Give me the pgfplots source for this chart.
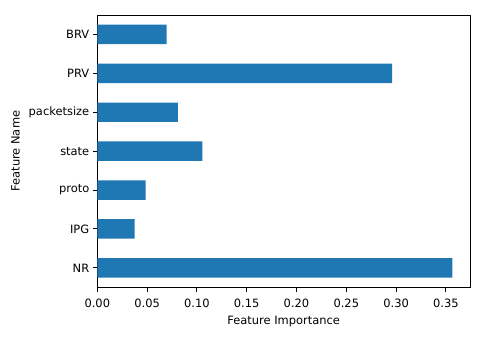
\documentclass[border=0pt]{standalone}
\usepackage{pgfplots}
\pgfplotsset{compat=1.18}
\usepackage{fontspec}
\setmainfont{DejaVu Sans}
\definecolor{mplblue}{RGB}{31,119,180}

\begin{document}
\begin{tikzpicture}
  \begin{axis}[
    scale only axis,
    width=372.7bp, height=272.3bp,
    xbar, bar width=0.5,
    xmin=0, xmax=0.3742,
    ymin=-0.5, ymax=6.5,
    ytick={0,...,6},
    yticklabels={NR,IPG,proto,state,packetsize,PRV,BRV},
    xtick={0,0.05,...,0.351},
    xticklabel style={yshift=-4bp, /pgf/number format/.cd, fixed, fixed zerofill, precision=2},
    /pgf/number format/assume math mode=true,
    xtick pos=lower, ytick pos=left,
    tick align=outside,
    major tick length=4.5bp,
    tick style={black, line width=0.9bp},
    axis line style={black, line width=0.9bp},
    font=\fontsize{11.5}{13.5}\selectfont,
    xlabel={Feature Importance},
    ylabel={Feature Name},
    xlabel style={yshift=-1bp},
    ylabel style={yshift=2bp},
  ]
    % feature importances, bottom (NR) to top (BRV)
    \addplot[fill=mplblue, draw=none] coordinates {
      (0.3564,0) (0.0375,1) (0.0486,2) (0.1054,3)
      (0.0810,4) (0.2959,5) (0.0697,6)
    };
  \end{axis}
  \pgfresetboundingbox
  \path (current axis.south west) ++(-97.3bp,-52.7bp)
        (current axis.north east) ++(10bp,15bp);
\end{tikzpicture}
\end{document}
